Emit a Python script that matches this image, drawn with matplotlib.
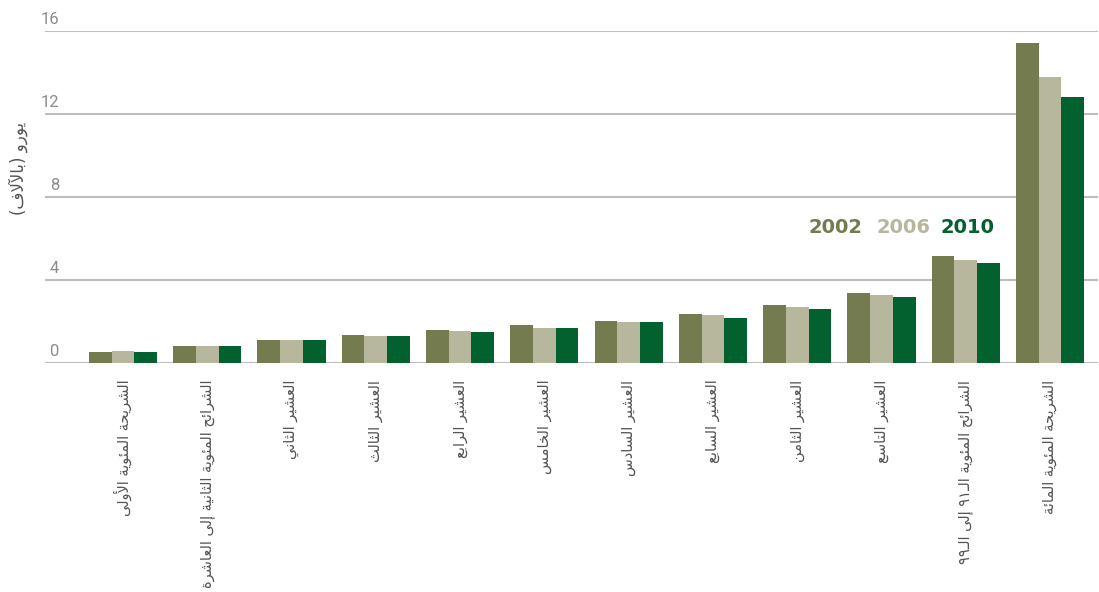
# =====================================================
# Grouped bar chart: euro (thousands) by income group
# =====================================================

import matplotlib
matplotlib.use("Agg")
import matplotlib.pyplot as plt
import numpy as np

# =====================================================
# Data
# =====================================================

categories = [
    "الشريحة المئوية الأولى",
    "الشرائح المئوية الثانية إلى العاشرة",
    "العشير الثاني",
    "العشير الثالث",
    "العشير الرابع",
    "العشير الخامس",
    "العشير السادس",
    "العشير السابع",
    "العشير الثامن",
    "العشير التاسع",
    "الشرائح المئوية الـ٩١ إلى الـ٩٩",
    "الشريحة المئوية المائة",
]

years = ["2002", "2006", "2010"]

values_2002 = [0.53, 0.83, 1.11, 1.35, 1.57, 1.81, 2.01, 2.34, 2.78, 3.37, 5.15, 15.4]
values_2006 = [0.58, 0.83, 1.11, 1.30, 1.52, 1.71, 1.96, 2.29, 2.69, 3.26, 4.95, 13.8]
values_2010 = [0.53, 0.83, 1.11, 1.30, 1.47, 1.71, 1.96, 2.19, 2.60, 3.17, 4.80, 12.8]

y_ticks = [0, 4, 8, 12, 16]
y_label = "يورو (بالآلاف)"

colors = ["#747B4F", "#B6B79D", "#03602F"]

# =====================================================
# Simple Arabic shaping (matplotlib has no text shaping)
# =====================================================

# char: (isolated, final, initial, medial)
FORMS = {
    "ب": (0xFE8F, 0xFE90, 0xFE91, 0xFE92),
    "ت": (0xFE95, 0xFE96, 0xFE97, 0xFE98),
    "ث": (0xFE99, 0xFE9A, 0xFE9B, 0xFE9C),
    "ج": (0xFE9D, 0xFE9E, 0xFE9F, 0xFEA0),
    "ح": (0xFEA1, 0xFEA2, 0xFEA3, 0xFEA4),
    "خ": (0xFEA5, 0xFEA6, 0xFEA7, 0xFEA8),
    "س": (0xFEB1, 0xFEB2, 0xFEB3, 0xFEB4),
    "ش": (0xFEB5, 0xFEB6, 0xFEB7, 0xFEB8),
    "ص": (0xFEB9, 0xFEBA, 0xFEBB, 0xFEBC),
    "ض": (0xFEBD, 0xFEBE, 0xFEBF, 0xFEC0),
    "ط": (0xFEC1, 0xFEC2, 0xFEC3, 0xFEC4),
    "ظ": (0xFEC5, 0xFEC6, 0xFEC7, 0xFEC8),
    "ع": (0xFEC9, 0xFECA, 0xFECB, 0xFECC),
    "غ": (0xFECD, 0xFECE, 0xFECF, 0xFED0),
    "ف": (0xFED1, 0xFED2, 0xFED3, 0xFED4),
    "ق": (0xFED5, 0xFED6, 0xFED7, 0xFED8),
    "ك": (0xFED9, 0xFEDA, 0xFEDB, 0xFEDC),
    "ل": (0xFEDD, 0xFEDE, 0xFEDF, 0xFEE0),
    "م": (0xFEE1, 0xFEE2, 0xFEE3, 0xFEE4),
    "ن": (0xFEE5, 0xFEE6, 0xFEE7, 0xFEE8),
    "ه": (0xFEE9, 0xFEEA, 0xFEEB, 0xFEEC),
    "ي": (0xFEF1, 0xFEF2, 0xFEF3, 0xFEF4),
    "ئ": (0xFE89, 0xFE8A, 0xFE8B, 0xFE8C),
    "ا": (0xFE8D, 0xFE8E),
    "أ": (0xFE83, 0xFE84),
    "إ": (0xFE87, 0xFE88),
    "آ": (0xFE81, 0xFE82),
    "ة": (0xFE93, 0xFE94),
    "د": (0xFEA9, 0xFEAA),
    "ذ": (0xFEAB, 0xFEAC),
    "ر": (0xFEAD, 0xFEAE),
    "ز": (0xFEAF, 0xFEB0),
    "و": (0xFEED, 0xFEEE),
    "ؤ": (0xFE85, 0xFE86),
    "ى": (0xFEEF, 0xFEF0),
}
LAM_ALEF = {"ا": (0xFEFB, 0xFEFC), "أ": (0xFEF7, 0xFEF8),
            "إ": (0xFEF9, 0xFEFA), "آ": (0xFEF5, 0xFEF6)}
TATWEEL = "\u0640"


def joins_left(c):
    return c == TATWEEL or (c in FORMS and len(FORMS[c]) == 4)


def joins_right(c):
    return c == TATWEEL or c in FORMS


def shape(text):
    out = []
    i = 0
    n = len(text)
    while i < n:
        c = text[i]
        prev = text[i - 1] if i > 0 else ""
        link_prev = joins_left(prev) and joins_right(c) and not out_is_ligature(out)
        if c == "ل" and i + 1 < n and text[i + 1] in LAM_ALEF:
            iso, fin = LAM_ALEF[text[i + 1]]
            out.append((chr(fin if link_prev else iso), True))
            i += 2
            continue
        nxt = text[i + 1] if i + 1 < n else ""
        link_next = joins_left(c) and joins_right(nxt)
        if c in FORMS:
            f = FORMS[c]
            if len(f) == 4:
                idx = 3 if (link_prev and link_next) else 1 if link_prev else 2 if link_next else 0
            else:
                idx = 1 if link_prev else 0
            out.append((chr(f[idx]), False))
        else:
            out.append((c, False))
        i += 1
    return "".join(ch for ch, _ in out)


def out_is_ligature(out):
    return bool(out) and out[-1][1]


MIRROR = {"(": ")", ")": "("}


def visual(text):
    # shape, then put in left-to-right drawing order, keeping digit runs LTR
    s = shape(text)
    runs = []
    for ch in s:
        is_digit = ch.isdigit()
        if runs and is_digit and runs[-1][0]:
            runs[-1][1].append(ch)
        else:
            runs.append((is_digit, [MIRROR.get(ch, ch)]))
    return "".join("".join(r) for _, r in reversed(runs))


# =====================================================
# Figure
# =====================================================

W, H = 1099, 592
fig = plt.figure(figsize=(W / 100, H / 100), dpi=100)

ax_left, ax_right = 45, 1098
ax_top, ax_bottom = 31, 363
ax = fig.add_axes([ax_left / W, 1 - ax_bottom / H,
                   (ax_right - ax_left) / W, (ax_bottom - ax_top) / H])

x = np.arange(len(categories))
width = 0.27
series = [values_2002, values_2006, values_2010]

for k, vals in enumerate(series):
    ax.bar(x + (k - 1) * width, vals, width, color=colors[k], zorder=3)

ax.set_ylim(0, 16)
ax.set_xlim(-0.926, 11.57)

for s in ax.spines.values():
    s.set_visible(False)

for v in y_ticks:
    ax.axhline(v, color="#BDBDBD", linewidth=1.5, zorder=1)
    ax.annotate(str(v), xy=(0, v), xycoords=("axes fraction", "data"),
                xytext=(10, 5), textcoords="offset points",
                ha="right", va="baseline", fontsize=12,
                color="#8C8C8C", family=["Roboto", "DejaVu Sans"])

ax.set_yticks([])
ax.set_xticks(x)
ax.set_xticklabels([visual(c) for c in categories], rotation=90,
                   fontsize=10.5, color="#555555", family=["DejaVu Sans"])
ax.tick_params(axis="x", length=0, pad=12)

# y axis title
fig.text(18 / W, 1 - 168 / H, visual(y_label), rotation=90,
         ha="center", va="center", fontsize=12, color="#555555",
         family=["DejaVu Sans"])

# year labels used as legend
legend_x = [809, 876, 941]
for yr, lx, col in zip(years, legend_x, colors):
    fig.text(lx / W, 1 - 233 / H, yr, ha="left", va="baseline",
             fontsize=14, fontweight="bold", color=col,
             family=["DejaVu Sans"])

fig.savefig("out.png", dpi=100)
